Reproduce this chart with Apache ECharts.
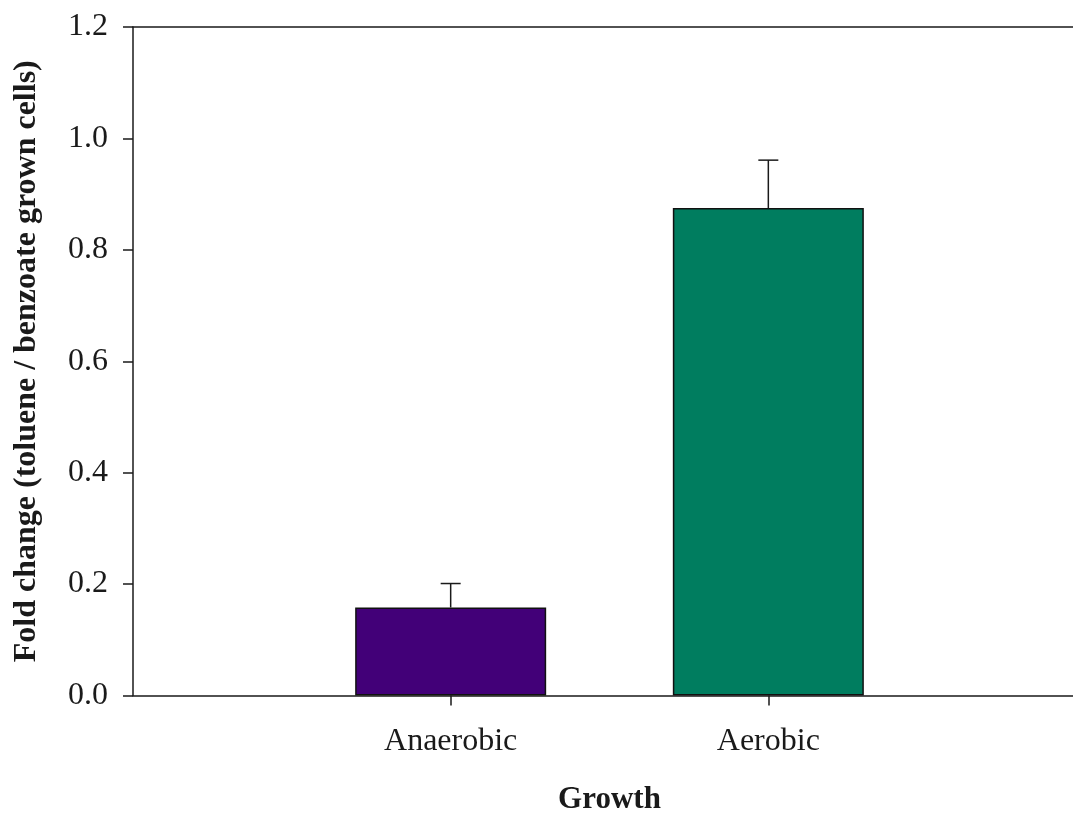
<!DOCTYPE html>
<html>
<head>
<meta charset="utf-8">
<script src="https://cdn.jsdelivr.net/npm/echarts@6/dist/echarts.min.js"></script>
<style>
  html, body { margin: 0; padding: 0; background: #fff; overflow: hidden; }
  #chart { width: 1073px; height: 815px; }
</style>
</head>
<body>
<div id="chart"></div>
<script>
// Growth conditions (padded with empty slots at both ends of the axis)
const categories = ['', 'Anaerobic', 'Aerobic', ''];
// Mean fold change (toluene / benzoate grown cells)
const foldChange = [null, 0.158, 0.875, null];
// Upper error (standard deviation)
const errorUp = [null, 0.043, 0.086, null];
const barColors = ['#ffffff', '#420078', '#007d5f', '#ffffff'];
const yTicks = [0, 0.2, 0.4, 0.6, 0.8, 1.0, 1.2];

const serif = '"Liberation Serif", "Times New Roman", serif';
const ink = '#1a1a1a';

const chart = echarts.init(document.getElementById('chart'), null, { renderer: 'canvas' });

chart.setOption({
  animation: false,
  backgroundColor: '#ffffff',
  grid: {
    left: 133, top: 27, width: 953, height: 668.5,
    containLabel: false,
    outerBoundsMode: 'none'
  },
  xAxis: [
    {
      type: 'category',
      data: categories,
      boundaryGap: false,
      position: 'bottom',
      name: 'Growth',
      nameLocation: 'middle',
      nameGap: 89,
      nameTextStyle: { fontFamily: serif, fontWeight: 'bold', fontSize: 31, color: ink },
      axisLine: { show: true, lineStyle: { color: ink, width: 1.5 } },
      axisTick: {
        show: true, length: 10, inside: false,
        interval: (i) => categories[i] !== '',
        lineStyle: { color: ink, width: 1.5 }
      },
      axisLabel: {
        interval: 0, margin: 30,
        fontFamily: serif, fontSize: 32, color: ink
      },
      splitLine: { show: false }
    },
    {
      type: 'category',
      data: categories,
      boundaryGap: false,
      position: 'top',
      axisLine: { show: true, lineStyle: { color: ink, width: 1.5 } },
      axisTick: { show: false },
      axisLabel: { show: false },
      splitLine: { show: false }
    }
  ],
  yAxis: {
    type: 'value',
    min: yTicks[0],
    max: yTicks[yTicks.length - 1],
    interval: 0.2,
    name: 'Fold change (toluene / benzoate grown cells)',
    nameLocation: 'middle',
    nameGap: 90,
    nameRotate: 90,
    nameTextStyle: { fontFamily: serif, fontWeight: 'bold', fontSize: 32, color: ink },
    axisLine: { show: true, lineStyle: { color: ink, width: 1.5 } },
    axisTick: { show: true, length: 10, inside: false, lineStyle: { color: ink, width: 1.5 } },
    axisLabel: {
      margin: 25,
      fontFamily: serif, fontSize: 32, color: ink,
      formatter: (v) => v.toFixed(1)
    },
    splitLine: { show: false }
  },
  series: [
    {
      type: 'bar',
      data: foldChange.map((v, i) => v === null ? '-' : {
        value: v,
        itemStyle: { color: barColors[i], borderColor: '#111', borderWidth: 1.5 }
      }),
      barWidth: 191,
      z: 2
    },
    {
      type: 'custom',
      data: foldChange.map((v, i) => v === null ? null : [i, v, v + errorUp[i]]).filter(d => d),
      encode: { x: 0, y: [1, 2] },
      z: 3,
      renderItem: (params, api) => {
        const base = api.coord([api.value(0), api.value(1)]);
        const top = api.coord([api.value(0), api.value(2)]);
        const cap = 10;
        const style = { stroke: ink, lineWidth: 1.5 };
        return {
          type: 'group',
          children: [
            { type: 'line', shape: { x1: base[0], y1: base[1], x2: top[0], y2: top[1] }, style },
            { type: 'line', shape: { x1: top[0] - cap, y1: top[1], x2: top[0] + cap, y2: top[1] }, style }
          ]
        };
      }
    }
  ]
});
</script>
</body>
</html>
